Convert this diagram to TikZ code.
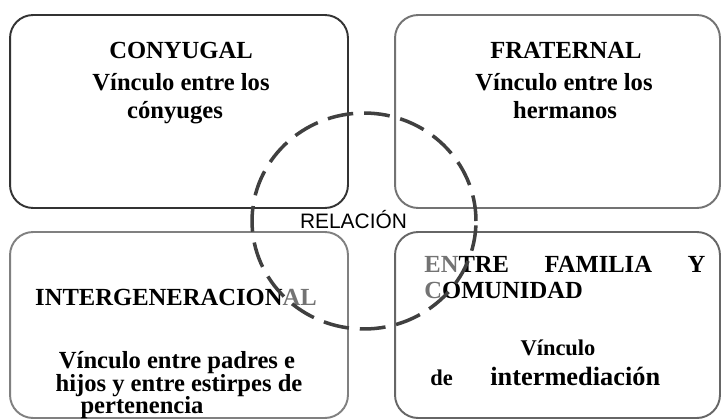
\documentclass[tikz,border=0pt]{standalone}
\usepackage{fontspec}
\setmainfont{Liberation Serif}
\newfontfamily\arialfont{Liberation Sans}
\begin{document}
\begin{tikzpicture}[x=0.02cm, y=-0.02cm,
    caja/.style={draw, rounded corners=0.46cm, line width=1.1pt, inner sep=0pt},
    txt/.style={anchor=base, inner sep=0pt, font=\fontsize{14}{17}\selectfont\bfseries},
    txtc/.style={txt, font=\fontsize{12.8}{15}\selectfont\bfseries},
    relacion/.style={draw=black!75, line width=2pt, dash pattern=on 14.7pt off 6.2pt}]
\useasboundingbox (0,0) rectangle (724,419);
% cajas
\node[caja, draw=black!80, minimum width=6.76cm, minimum height=3.86cm] (conyugal) at (179,111.5) {};
\node[caja, draw=black!55, minimum width=6.5cm, minimum height=3.86cm] (fraternal) at (557.5,111.5) {};
\node[caja, draw=black!50, minimum width=6.76cm, minimum height=3.72cm] (intergen) at (179,325) {};
\node[caja, draw=black!60, minimum width=6.5cm, minimum height=3.72cm] (comunidad) at (557.5,325) {};
% conyugal
\node[txt] (c1) at (181,58) {CONYUGAL};
\node[txt] (c2) at (181,90) {Vínculo entre los};
\node[txt] (c3) at (175,118) {cónyuges};
% fraternal
\node[txt] (f1) at (566,58) {FRATERNAL};
\node[txt] (f2) at (564,90) {Vínculo entre los};
\node[txt] (f3) at (565,118) {hermanos};
% intergeneracional
\node[txt] (i1) at (176,305) {INTERGENERACION\textcolor{black!55}{AL}};
\node[txt] (i2) at (177,368) {Vínculo entre padres e};
\node[txt] (i3) at (179,391) {hijos y entre estirpes de};
\node[txt] (i4) at (142,413.5) {pertenencia};
% familia y comunidad
\node[txt, anchor=base west] (e1) at (424,272) {\hbox to 5.62cm{\textcolor{black!55}{EN}TRE\hfill FAMILIA\hfill Y}};
\node[txt, anchor=base west] (e2) at (424,298) {\textcolor{black!55}{C}OMUNIDAD};
\node[txtc] (e3) at (558,355) {Vínculo};
\node[txtc, anchor=base west] (e4) at (430,385) {de};
\node[txt, anchor=base west, font=\fontsize{15}{18}\selectfont\bfseries] (e5) at (490,385) {intermediación};
% relacion
\draw[relacion] (364,221) ellipse [x radius=2.24cm, y radius=2.16cm];
\node[anchor=base, inner sep=0pt, font=\arialfont\fontsize{11.9}{14}\selectfont] (rel) at (353.5,228) {RELACIÓN};
\end{tikzpicture}
\end{document}
